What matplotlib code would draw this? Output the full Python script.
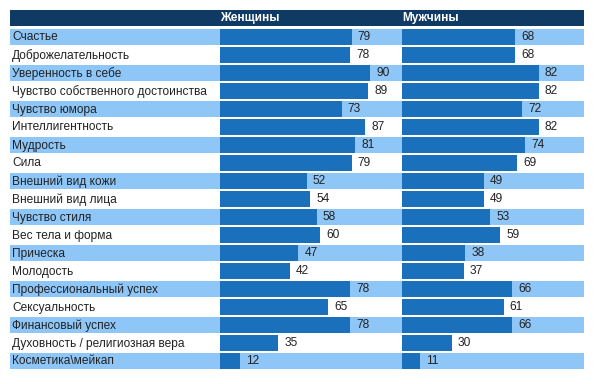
import matplotlib.pyplot as plt
from matplotlib.patches import Rectangle

plt.rcParams['font.family'] = ['Liberation Sans', 'DejaVu Sans']

categories = [
    "Счастье", "Доброжелательность", "Уверенность в себе",
    "Чувство собственного достоинства", "Чувство юмора", "Интеллигентность",
    "Мудрость", "Сила", "Внешний вид кожи", "Внешний вид лица",
    "Чувство стиля", "Вес тела и форма", "Прическа", "Молодость",
    "Профессиональный успех", "Сексуальность", "Финансовый успех",
    "Духовность / религиозная вера", "Косметика\\мейкап",
]
women = [79, 78, 90, 89, 73, 87, 81, 79, 52, 54, 58, 60, 47, 42, 78, 65, 78, 35, 12]
men = [68, 68, 82, 82, 72, 82, 74, 69, 49, 49, 53, 59, 38, 37, 66, 61, 66, 30, 11]
headers = ["Женщины", "Мужчины"]

W, H = 594, 384
dark = "#1a70bb"
light = "#8ec6f8"
navy = "#0e3a63"
n = len(categories)

fig = plt.figure(figsize=(W / 100, H / 100), dpi=100)

# background axes in pixel coordinates: header and row stripes
bg = fig.add_axes([0, 0, 1, 1])
bg.set_xlim(0, W)
bg.set_ylim(H, 0)
bg.axis("off")
bg.add_patch(Rectangle((10, 10), 574, 16, color=navy, lw=0))
for i, name in enumerate(categories):
    top = 29 + 18 * i
    if i % 2 == 0:
        bg.add_patch(Rectangle((10, top), 574, 16, color=light, lw=0))
    bg.text(12, top + 8.5, name, va="center", ha="left", fontsize=8.6, color="#222222")

# bar panels
top_px, bot_px = 28, 28 + 18 * n
for x0, vals, title in [(220, women, headers[0]), (402, men, headers[1])]:
    bg.text(x0, 18.5, title, va="center", ha="left", fontsize=8.6,
            fontweight="bold", color="white")
    ax = fig.add_axes([x0 / W, 1 - bot_px / H, (100 * 1.667) / W, (bot_px - top_px) / H])
    ax.set_xlim(0, 100)
    ax.set_ylim(n - 0.5, -0.5)
    ax.barh(range(n), vals, height=16 / 18, color=dark)
    for i, v in enumerate(vals):
        ax.annotate(str(v), (v, i), xytext=(6, 0), textcoords="offset pixels",
                    va="center", ha="left", fontsize=8.6, color="#222222")
    ax.axis("off")
    ax.patch.set_alpha(0)

fig.savefig("out.png", dpi=100)
